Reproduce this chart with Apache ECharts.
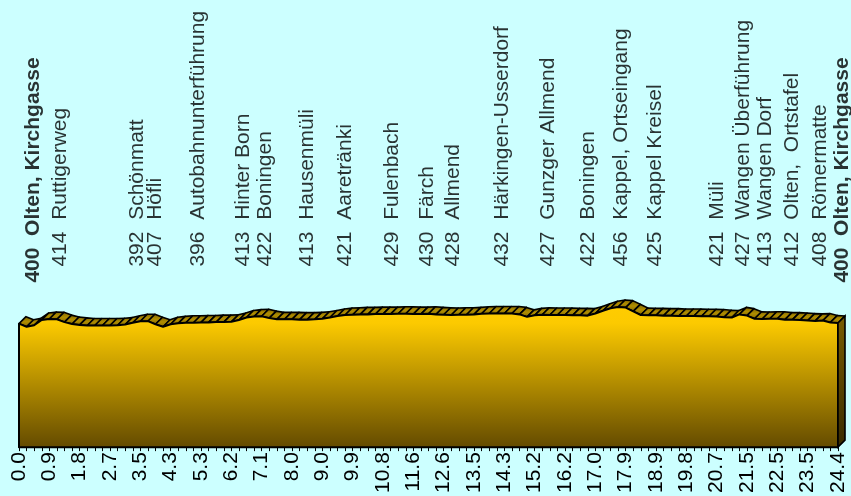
<!DOCTYPE html>
<html><head><meta charset="utf-8">
<script src="https://cdn.jsdelivr.net/npm/echarts@6/dist/echarts.min.js"></script>
<style>html,body{margin:0;padding:0;background:#ccffff}#c{width:851px;height:496px}</style>
</head><body><div id="c"></div>
<script>
// distance tick labels (km), one per 4 profile samples
const kmLabels = ['0.0','0.9','1.8','2.7','3.5','4.3','5.3','6.2','7.1','8.0','9.0','9.9','10.8','11.6','12.6','13.5','14.3','15.2','16.2','17.0','17.9','18.9','19.8','20.7','21.5','22.5','23.5','24.4'];
// elevation profile (m), 109 samples
const elevation = [400,390,395,412,415,414,405,399,396,394,394,394,394,395,397,403,408,408,398,390,
  398,401,403,403,404,404,405,405,406,412,420,423,424,418,414,414,414,413,413,414,
  416,420,425,428,429,430,430,431,431,431,432,432,431,431,432,430,429,428,429,429,
  430,432,433,433,433,433,430,422,427,429,428,428,428,427,427,426,433,442,450,454,
  452,440,428,427,427,426,426,425,425,425,424,424,423,421,420,430,426,416,415,416,
  416,413,413,412,410,409,410,404,402];
// waypoints
const stopNames = ['Olten, Kirchgasse','Ruttigerweg','Schönmatt','Höfli','Autobahnunterführung','Hinter Born','Boningen','Hausenmüli','Aaretränki','Fulenbach','Färch','Allmend','Härkingen-Usserdorf','Gunzger Allmend','Boningen','Kappel, Ortseingang','Kappel Kreisel','Müli','Wangen Überführung','Wangen Dorf','Olten,  Ortstafel','Römermatte','Olten, Kirchgasse'];
const stopElev = [400,414,392,407,396,413,422,413,421,429,430,428,432,427,422,456,425,421,427,413,412,408,400];
const stopPos = [1.85,5.4,15.55,17.95,23.6,29.55,32.45,38.0,43.0,49.2,53.8,57.25,63.7,69.75,75.05,79.4,83.85,92.05,95.5,98.4,101.95,105.65,108.55];
const stopBold = [true,false,false,false,false,false,false,false,false,false,false,false,false,false,false,false,false,false,false,false,false,false,true];

const FONT = 'Liberation Sans, Arial, sans-serif';
const DX = 7, DY = 7;
const n = elevation.length;
const cats = elevation.map((_, i) => String(i));
const G = echarts.graphic.LinearGradient;

const chart = echarts.init(document.getElementById('c'));
const segData = [];
for (let i = 0; i < n - 1; i++) segData.push([i, elevation[i], elevation[i + 1]]);

const option = {
  backgroundColor: '#ccffff',
  animation: false,
  grid: { left: 19, right: 13, top: 15, bottom: 48 },
  xAxis: [{
    type: 'category', data: cats, boundaryGap: false,
    axisLine: { lineStyle: { color: '#000', width: 2 } },
    axisTick: { interval: 0, length: 4, lineStyle: { color: '#000', width: 1 } },
    axisLabel: { interval: 3, rotate: 90, fontSize: 21, fontFamily: FONT, color: '#000', margin: 5,
      formatter: (v, idx) => kmLabels[idx / 4] }
  }, { type: 'value', min: 0, max: n - 1, show: false }],
  yAxis: { type: 'value', min: 0, max: 1400, show: false },
  series: [
    { // top band (3D depth)
      type: 'custom', z: 2, silent: true, encode: { x: 0, y: [1, 2] }, data: segData,
      renderItem: (params, api) => {
        const i = api.value(0);
        const p0 = api.coord([i, api.value(1)]);
        const p1 = api.coord([i + 1, api.value(2)]);
        return { type: 'polygon', shape: { points: [p0, p1, [p1[0] + DX, p1[1] - DY], [p0[0] + DX, p0[1] - DY]] },
          style: { fill: new G(0, 0, 0, 1, [{ offset: 0, color: '#7a6000' }, { offset: 0.5, color: '#b08e00' }, { offset: 1, color: '#846800' }]), stroke: '#000', lineWidth: 1.6, lineJoin: 'round' } };
      }
    },
    { // front face
      type: 'custom', z: 3, silent: true, data: [[0, elevation[0]]],
      renderItem: (params, api) => {
        const pts = elevation.map((e, i) => api.coord([i, e]));
        pts.push(api.coord([n - 1, 0]));
        pts.push(api.coord([0, 0]));
        return { type: 'polygon', shape: { points: pts },
          style: { fill: new G(0, 0, 0, 1, [{ offset: 0, color: '#ffcc00' }, { offset: 0.12, color: '#fcca00' }, { offset: 1, color: '#634a00' }]), stroke: '#000', lineWidth: 2, lineJoin: 'round' } };
      }
    },
    { // right side face
      type: 'custom', z: 3, silent: true, data: [[n - 1, elevation[n - 1]]],
      renderItem: (params, api) => {
        const t = api.coord([api.value(0), api.value(1)]);
        const b = api.coord([api.value(0), 0]);
        return { type: 'polygon', shape: { points: [t, [t[0] + DX, t[1] - DY], [b[0] + DX, b[1] - DY], b] },
          style: { fill: new G(0, 0, 0, 1, [{ offset: 0, color: '#7a5c00' }, { offset: 1, color: '#3a2b00' }]), stroke: '#000', lineWidth: 1.6 } };
      }
    },
    { // waypoint labels
      type: 'scatter', xAxisIndex: 1, yAxisIndex: 0, symbolSize: 0, clip: false, silent: true, z: 10,
      data: stopNames.map((nm, k) => ({ value: [stopPos[k], stopBold[k] ? 533 : 585],
        label: { fontWeight: stopBold[k] ? 'bold' : 'normal' } })),
      label: { show: true, position: 'inside', rotate: 90, align: 'left', verticalAlign: 'middle',
        fontSize: 21, fontFamily: FONT, color: '#000',
        formatter: p => stopElev[p.dataIndex] + '  ' + stopNames[p.dataIndex] }
    }
  ]
};
chart.setOption(option);
</script>
</body></html>
